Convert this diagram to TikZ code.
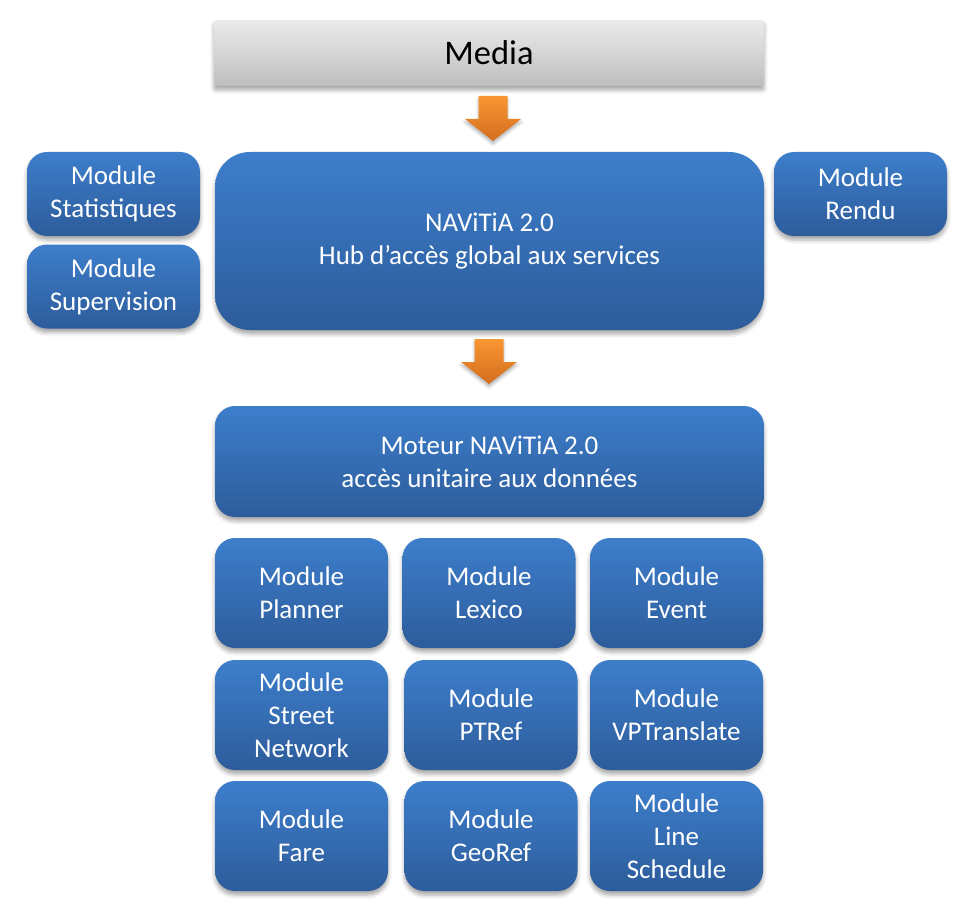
\documentclass[tikz,border=0pt]{standalone}
\usepackage{fontspec}
\setmainfont{Carlito}
\usetikzlibrary{shadows.blur}
\definecolor{btop}{HTML}{3D7ECB}
\definecolor{bbot}{HTML}{2D5C9B}
\definecolor{gtop}{HTML}{EBEBEB}
\definecolor{gbot}{HTML}{BEBEBE}
\definecolor{otop}{HTML}{FA9632}
\definecolor{obot}{HTML}{D26E1E}
\begin{document}
\begin{tikzpicture}[x=1pt,y=-1pt,
  shad/.style={blur shadow={shadow xshift=0pt, shadow yshift=-4pt, shadow blur radius=4pt, shadow opacity=35}},
  bluebox/.style={shad, rounded corners=20pt, top color=btop, bottom color=bbot, draw=none,
    text=white, align=center, inner sep=0pt, font=\fontsize{27}{33}\selectfont},
  modbox/.style={bluebox, minimum width=173pt, minimum height=110pt},
  sidebox/.style={bluebox, minimum width=173pt, minimum height=84pt},
  mediabox/.style={shad, rounded corners=2pt, top color=gtop, bottom color=gbot, draw=none,
    text=black, inner sep=0pt, minimum width=550pt, minimum height=66pt, font=\fontsize{34.5}{40}\selectfont},
  blockarrow/.style={top color=otop, bottom color=obot, draw=none,
    blur shadow={shadow xshift=0pt, shadow yshift=-3pt, shadow blur radius=3pt, shadow opacity=30}}
]
\useasboundingbox (0,0) rectangle (977,915);

\node[mediabox] (media) at (489,53) {Media};

\node[bluebox, rounded corners=35pt, minimum width=549pt, minimum height=178pt] (hub) at (489.5,241)
  {NAViTiA 2.0\\Hub d’accès global aux services};
\node[sidebox] (stat) at (113.5,194) {Module\\Statistiques};
\node[sidebox] (sup) at (113.5,286.5) {Module\\Supervision};
\node[sidebox] (rendu) at (860.5,194) {Module\\Rendu};

\node[bluebox, minimum width=549pt, minimum height=111pt] (moteur) at (489.5,461.5)
  {Moteur NAViTiA 2.0\\accès unitaire aux données};

\node[modbox] (planner) at (301.5,593) {Module\\Planner};
\node[modbox] (lexico) at (489,593) {Module\\Lexico};
\node[modbox] (event) at (676.5,593) {Module\\Event};
\node[modbox] (street) at (301.5,715) {Module\\Street\\Network};
\node[modbox] (ptref) at (491,715) {Module\\PTRef};
\node[modbox] (vpt) at (676.5,715) {Module\\VPTranslate};
\node[modbox] (fare) at (301.5,836) {Module\\Fare};
\node[modbox] (georef) at (491,836) {Module\\GeoRef};
\node[modbox] (line) at (676.5,836) {Module\\Line\\Schedule};

% block arrows
\coordinate (tip1) at (493,141);
\coordinate (tip2) at (489,384);
\shade[blockarrow] (tip1) -- ++(-28,-22) -- ++(13.5,0) -- ++(0,-23) -- ++(29,0) -- ++(0,23) -- ++(13.5,0) -- cycle;
\shade[blockarrow] (tip2) -- ++(-28,-22) -- ++(13.5,0) -- ++(0,-23) -- ++(29,0) -- ++(0,23) -- ++(13.5,0) -- cycle;
\end{tikzpicture}
\end{document}
